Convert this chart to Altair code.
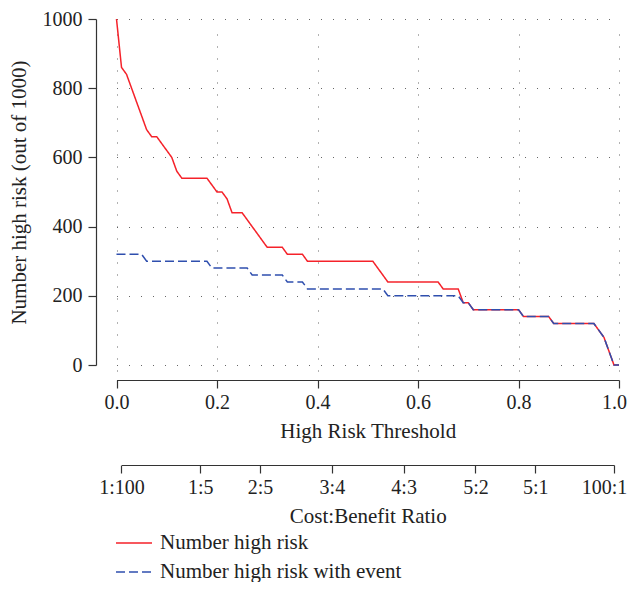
import json
import altair as alt
import pandas as pd

# ---- data ----
series_names = ["Number high risk", "Number high risk with event"]

red_t = [0.00, 0.01, 0.02, 0.06, 0.07, 0.08, 0.11, 0.12, 0.13, 0.18, 0.20, 0.21,
         0.22, 0.23, 0.25, 0.30, 0.33, 0.34, 0.37, 0.38, 0.51, 0.54, 0.64, 0.65,
         0.68, 0.69, 0.70, 0.71, 0.80, 0.81, 0.86, 0.87, 0.95, 0.97, 0.99, 1.00]
red_v = [1000, 860, 840, 680, 660, 660, 600, 560, 540, 540, 500, 500,
         480, 440, 440, 340, 340, 320, 320, 300, 300, 240, 240, 220,
         220, 180, 180, 160, 160, 140, 140, 120, 120, 80, 0, 0]

blue_t = [0.00, 0.05, 0.06, 0.18, 0.19, 0.26, 0.27, 0.33, 0.34, 0.37, 0.38, 0.53,
          0.54, 0.68, 0.69, 0.70, 0.71, 0.80, 0.81, 0.86, 0.87, 0.95, 0.97, 0.99, 1.00]
blue_v = [320, 320, 300, 300, 280, 280, 260, 260, 240, 240, 220, 220,
          200, 200, 180, 180, 160, 160, 140, 140, 120, 120, 80, 0, 0]

x_ticks = [0.0, 0.2, 0.4, 0.6, 0.8, 1.0]
y_ticks = [0, 200, 400, 600, 800, 1000]

ratio_labels = ["1:100", "1:5", "2:5", "3:4", "4:3", "5:2", "5:1", "100:1"]
ratio_cost = [1, 1, 2, 3, 4, 5, 5, 100]
ratio_benefit = [100, 5, 5, 4, 3, 2, 1, 1]

# ---- layout / style ----
FONT = "Liberation Serif"
W, H = 523, 361
X0, X1 = 20.5, 523    # pixel range of threshold 0..1 inside the plot
Y0, Y1 = 346, 0       # pixel range of 0..1000
RED, BLUE = "#f5222a", "#2f4fae"
AX = "#333333"
PAD = {"left": 88, "top": 11, "right": 9, "bottom": 202}

ratio_t = [c / (c + b) for c, b in zip(ratio_cost, ratio_benefit)]

df = pd.concat([
    pd.DataFrame({"t": red_t, "v": red_v, "series": series_names[0]}),
    pd.DataFrame({"t": blue_t, "v": blue_v, "series": series_names[1]}),
], ignore_index=True)

legend = alt.Legend(
    title=None, orient="none", legendX=19, legendY=505, direction="vertical",
    symbolType="stroke", symbolSize=1296, symbolStrokeWidth=1.5,
    labelFont=FONT, labelFontSize=21, labelColor="#222222", labelOffset=7,
    labelLimit=600, rowPadding=-9, padding=0,
)

lines = alt.Chart(df).mark_line(strokeWidth=1.5).encode(
    x=alt.X("t:Q",
            scale=alt.Scale(domain=[0, 1], range=[X0, X1], nice=False, zero=False),
            axis=alt.Axis(values=x_ticks, format=".1f", title="High Risk Threshold",
                          labelPadding=4, titlePadding=8, grid=True,
                          labelOffset={"condition": {"test": "datum.value >= 0.99", "value": -5},
                                       "value": 0})),
    y=alt.Y("v:Q",
            scale=alt.Scale(domain=[0, 1000], range=[Y0, Y1], nice=False),
            axis=alt.Axis(values=y_ticks, format="d", title="Number high risk (out of 1000)",
                          labelPadding=6, titlePadding=13, grid=True)),
    color=alt.Color("series:N", scale=alt.Scale(domain=series_names, range=[RED, BLUE]),
                    legend=legend),
    strokeDash=alt.StrokeDash("series:N",
                              scale=alt.Scale(domain=series_names, range=[[1, 0], [9, 4]]),
                              legend=legend),
)

tmin, tmax = min(ratio_t), max(ratio_t)
label_expr = f"{json.dumps(ratio_labels)}[indexof({json.dumps(ratio_t)}, datum.value)]"

ratio_axis = alt.Chart(pd.DataFrame({"t": ratio_t})).mark_point(opacity=0).encode(
    x=alt.X("t:Q",
            scale=alt.Scale(domain=[tmin, tmax],
                            range=[X0 + tmin * (X1 - X0), X0 + tmax * (X1 - X0)],
                            nice=False, zero=False),
            axis=alt.Axis(orient="bottom", offset=85, values=ratio_t, labelExpr=label_expr,
                          title="Cost:Benefit Ratio", grid=False,
                          labelPadding=4, titlePadding=8,
                          labelOffset={"condition": {"test": "datum.value >= 0.98", "value": -10},
                                       "value": 0})),
)

chart = alt.layer(lines, ratio_axis).resolve_scale(x="independent").properties(
    width=W, height=H, padding=PAD, autosize=alt.AutoSizeParams(type="none"),
).configure_view(stroke=None).configure_axis(
    domainColor=AX, domainWidth=1.2, tickColor=AX, tickWidth=1.2, tickSize=8,
    labelFont=FONT, labelFontSize=20, labelColor="#222222",
    titleFont=FONT, titleFontSize=21, titleFontWeight="normal", titleColor="#222222",
    gridColor="#555555", gridDash=[1, 11], gridWidth=1, gridOpacity=0.9,
    labelFlush=False,
)

chart.save("out.html", embed_options={"renderer": "svg", "actions": False})
